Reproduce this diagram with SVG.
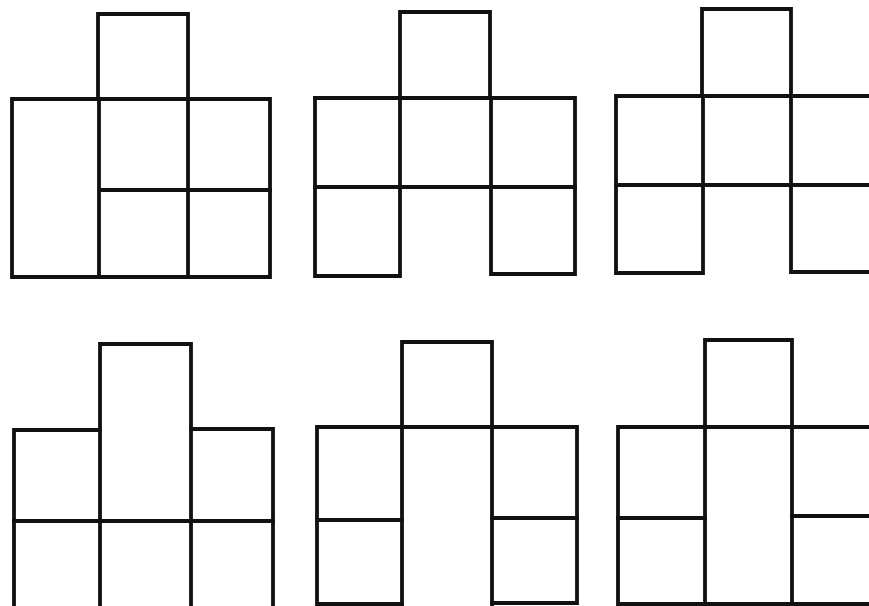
<svg xmlns="http://www.w3.org/2000/svg" width="869" height="606" viewBox="0 0 869 606">
<style>
.s{fill:none;stroke:#111;stroke-width:3.8;stroke-linecap:square;stroke-linejoin:miter}
</style>
<rect width="869" height="606" fill="#ffffff"/>
<g id="shape1">
<path class="s" d="M98,99 V14 H188 V99"/>
<path class="s" d="M12,99 H270 V277 H12 Z"/>
<path class="s" d="M99,99 V277 M188,99 V277 M99,190 H270"/>
</g>
<g id="shape2">
<path class="s" d="M400,98 V12 H490 V98"/>
<path class="s" d="M315,98 H575 V274 H491 V98"/>
<path class="s" d="M315,98 V276 H400 V98"/>
<path class="s" d="M315,187 H575"/>
</g>
<g id="shape3">
<path class="s" d="M702,96 V9 H791 V96"/>
<path class="s" d="M869,96 H616 V273 H703 V96 M791,96 V272 H869"/>
<path class="s" d="M616,185 H869"/>
</g>
<g id="shape4">
<path class="s" d="M14,606 V430 H100 V344 H191 V429 H273 V606"/>
<path class="s" d="M100,430 V606 M191,429 V606 M14,521 H273"/>
</g>
<g id="shape5">
<path class="s" d="M402,606 V342 H492 V606"/>
<path class="s" d="M402,427 H317 V604 H402 M492,427 H577 V603 H492"/>
<path class="s" d="M402,427 H492 M317,520 H402 M492,518 H577"/>
</g>
<g id="shape6">
<path class="s" d="M705,427 V340 H792 V427"/>
<path class="s" d="M869,427 H618 V604 H869 M705,427 V604 M792,427 V604"/>
<path class="s" d="M618,518 H705 M792,516 H869"/>
</g>
</svg>
